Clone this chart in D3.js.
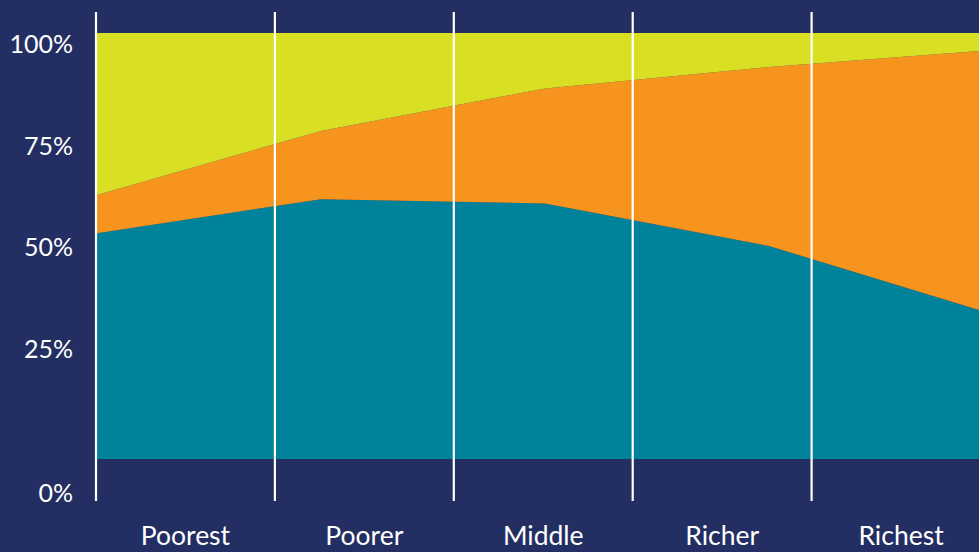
<!DOCTYPE html>
<html>
<head>
<meta charset="utf-8">
<script src="https://cdn.jsdelivr.net/npm/d3@7"></script>
<style>
  html, body { margin: 0; padding: 0; background: #232f62; overflow: hidden; }
  svg { display: block; }
</style>
</head>
<body>
<svg id="chart" width="979" height="552"></svg>
<script>
// ---- data ----
const categories = ["Poorest", "Poorer", "Middle", "Richer", "Richest"];
const seriesKeys = ["teal", "orange", "yellow"];
const tealValues = [53, 61, 60, 50, 34];
const orangeValues = [9, 16, 27, 42, 62];
const yellowValues = [38, 23, 13, 8, 4];
const yTickValues = [0, 25, 50, 75, 100];
const yTickLabels = ["0%", "25%", "50%", "75%", "100%"];

// ---- styling ----
const colors = { teal: "#00839a", orange: "#f7941e", yellow: "#d9e024" };
const bg = "#232f62";

const W = 979, H = 552;
const svg = d3.select("#chart").attr("width", W).attr("height", H);
svg.append("rect").attr("width", W).attr("height", H).attr("fill", bg);

const table = categories.map((c, i) => ({
  cat: c, teal: tealValues[i], orange: orangeValues[i], yellow: yellowValues[i]
}));

const y = d3.scaleLinear().domain([0, 100]).range([459, 33]);
const xPoint = d3.scalePoint().domain(categories).range([97, 993]);
const xBand = d3.scaleBand().domain(categories).range([96, 990.5]);

const stacked = d3.stack().keys(seriesKeys)(table);
const area = d3.area()
  .x(d => xPoint(d.data.cat))
  .y0(d => y(d[0]))
  .y1(d => y(d[1]));

svg.append("g").selectAll("path")
  .data(stacked)
  .join("path")
  .attr("d", area)
  .attr("fill", d => colors[d.key]);

// vertical separators
svg.append("g").selectAll("line")
  .data(categories)
  .join("line")
  .attr("x1", d => xBand(d))
  .attr("x2", d => xBand(d))
  .attr("y1", 12)
  .attr("y2", 501)
  .attr("stroke", "#ffffff")
  .attr("stroke-width", 2.2);

// y tick labels (label positions follow the original layout)
const yLabel = d3.scaleLinear().domain([0, 25, 100]).range([493, 349, 44]);
svg.append("g").selectAll("text")
  .data(yTickValues)
  .join("text")
  .attr("x", 73)
  .attr("y", d => yLabel(d))
  .attr("dy", "0.36em")
  .attr("text-anchor", "end")
  .attr("fill", "#ffffff")
  .style("font-family", "Lato, 'Open Sans', sans-serif")
  .style("font-size", "25px")
  .text((d, i) => yTickLabels[i]);

// category labels
svg.append("g").selectAll("text")
  .data(categories)
  .join("text")
  .attr("x", d => xBand(d) + xBand.bandwidth() / 2)
  .attr("y", 545)
  .attr("text-anchor", "middle")
  .attr("fill", "#ffffff")
  .style("font-family", "Lato, 'Open Sans', sans-serif")
  .style("font-size", "26.5px")
  .text(d => d);
</script>
</body>
</html>
